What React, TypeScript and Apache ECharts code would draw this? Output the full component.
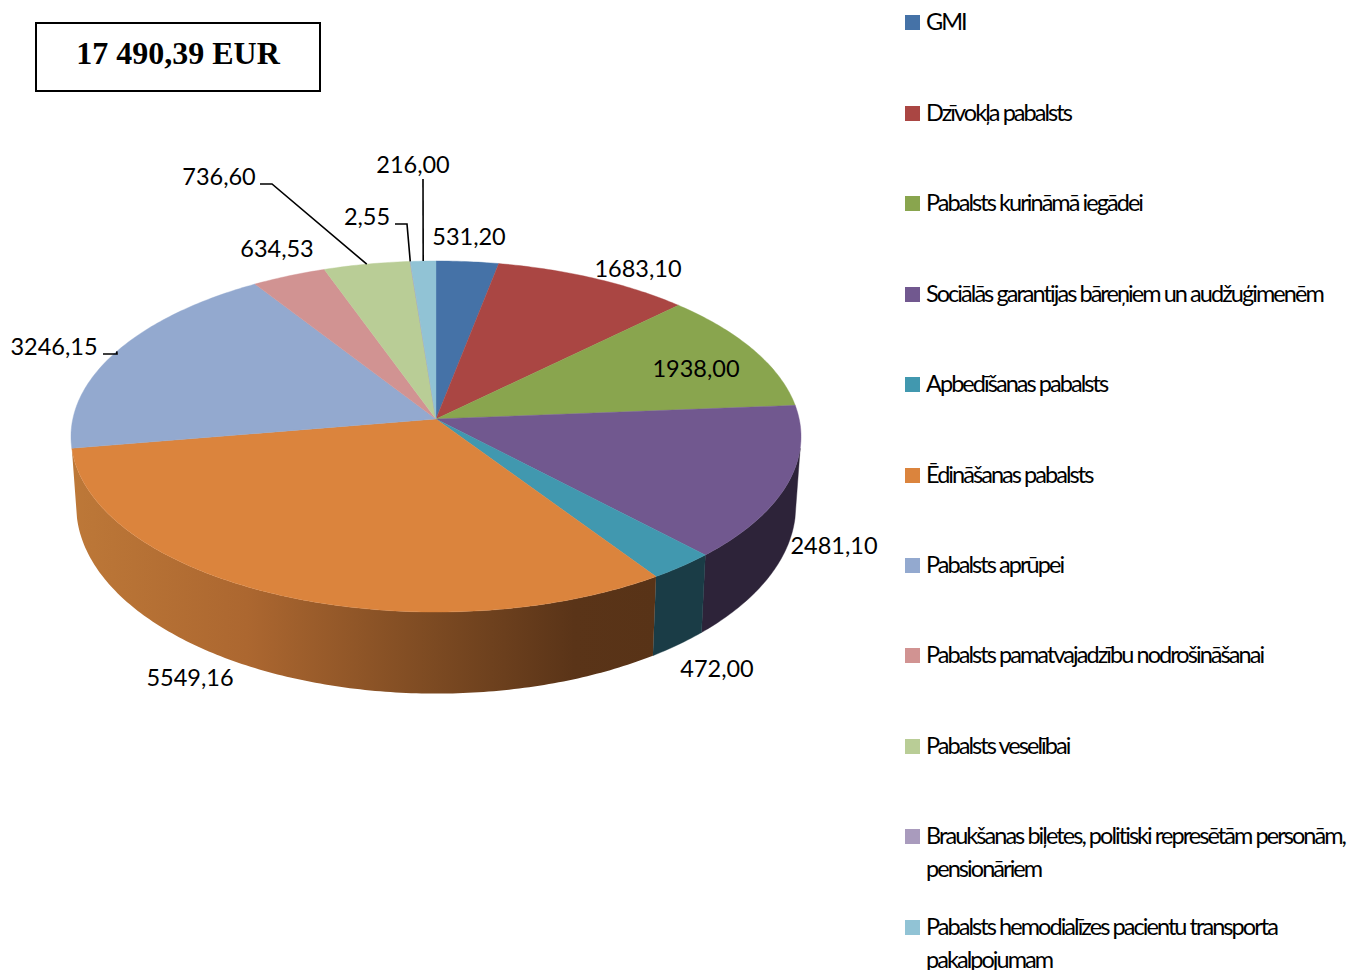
import React, { useEffect, useRef } from "react";
import * as echarts from "echarts";

const names = [
  "GMI",
  "Dzīvokļa pabalsts",
  "Pabalsts kurināmā iegādei",
  "Sociālās garantijas bāreņiem un audžuģimenēm",
  "Apbedīšanas pabalsts",
  "Ēdināšanas pabalsts",
  "Pabalsts aprūpei",
  "Pabalsts pamatvajadzību nodrošināšanai",
  "Pabalsts veselībai",
  "Braukšanas biļetes, politiski represētām personām,\npensionāriem",
  "Pabalsts hemodialīzes pacientu transporta\npakalpojumam",
];
const values = [531.2, 1683.1, 1938.0, 2481.1, 472.0, 5549.16, 3246.15, 634.53, 736.6, 2.55, 216.0];
const colors = ["#4572A7", "#AA4643", "#89A54E", "#71588F", "#4198AF", "#DB843D", "#93A9CF", "#D19392", "#B9CD96", "#A99BBD", "#91C3D5"];
const sideColors = ["#2a4464", "#662a28", "#52632f", "#2d2339", "#1a3c46", "", "#58657c", "#7d5857", "#6f7b5a", "#655d71", "#577580"];
const orangeSideStops = [
  { offset: 0, color: "#bd7838" },
  { offset: 0.3, color: "#ac6730" },
  { offset: 0.62, color: "#7c4a22" },
  { offset: 0.86, color: "#5a3418" },
  { offset: 1, color: "#583317" },
];
const totalLabel = "17 490,39 EUR";

// label centres, and the optional leader's fixed points before it meets the rim
const labelAt: [number, number][] = [
  [469, 236], [638, 268], [696, 368], [834, 545], [717, 668], [190, 677],
  [54, 346], [277, 248], [219, 176], [367, 216], [413, 164],
];
const leaders: ([number, number][] | null)[] = [
  null, null, null, null, null, null,
  [[103, 354], [117, 354]],
  null,
  [[260, 184], [272, 184]],
  [[395, 224], [407, 224]],
  [[423, 179]],
];
const legendCentres = [22.5, 113.5, 203.5, 294.5, 384.5, 475.5, 565.5, 655.5, 746.5, 836.5, 927.5];

const total = values.reduce((a, b) => a + b, 0);
const starts = values.map((_, i) => values.slice(0, i).reduce((a, b) => a + b, 0));
const deg = (v: number) => (v / total) * 360;

const CX = 436;
const K = 0.0997;
const TOP = { y0: 419, h: 173.8, r: 363.2 };
const BASE = { y0: 487, h: 186, r: 358 };
const SIDE_FROM = 99.5;
const SIDE_TO = 260.5;

function rim(a: number, lv: { y0: number; h: number; r: number }): [number, number] {
  const t = (a * Math.PI) / 180;
  const X = Math.sin(t);
  const Y = Math.cos(t);
  const d = 1 + K * Y;
  return [CX + (lv.r * X) / d, lv.y0 - (lv.h * Y) / d];
}
function arc(a0: number, a1: number, lv: typeof TOP) {
  const n = Math.max(2, Math.ceil((a1 - a0) / 0.75));
  const pts: [number, number][] = [];
  for (let i = 0; i <= n; i++) pts.push(rim(a0 + ((a1 - a0) * i) / n, lv));
  return pts;
}
const labelText = (v: number) => v.toFixed(2).replace(".", ",");

function sliceSeries(i: number) {
  return {
    type: "custom",
    name: names[i],
    coordinateSystem: "none",
    itemStyle: { color: colors[i] },
    data: [[values[i], starts[i]]],
    silent: true,
    renderItem: (_p: any, api: any) => {
      const a0 = deg(api.value(1));
      const a1 = a0 + deg(api.value(0));
      const children: any[] = [];
      const s0 = Math.max(a0, SIDE_FROM);
      const s1 = Math.min(a1, SIDE_TO);
      if (s1 - s0 > 0.1) {
        const fill =
          sideColors[i] === ""
            ? new echarts.graphic.LinearGradient(0, 0, 1, 0, orangeSideStops)
            : sideColors[i];
        children.push({
          type: "polygon",
          shape: { points: [...arc(s0, s1, TOP), ...arc(s0, s1, BASE).reverse()] },
          style: { fill, stroke: sideColors[i] === "" ? "none" : fill, lineWidth: 0.4 },
          z2: 1,
        });
      }
      children.push({
        type: "polygon",
        shape: { points: [[CX, TOP.y0], ...arc(a0, a1, TOP)] },
        style: { fill: colors[i], stroke: colors[i], lineWidth: 0.4 },
        z2: 2 + i,
      });
      const lead = leaders[i];
      if (lead) {
        children.push({
          type: "polyline",
          shape: { points: [...lead, rim((a0 + a1) / 2, TOP)] },
          style: { fill: "none", stroke: "#000", lineWidth: 1.6 },
          z2: 50,
        });
      }
      children.push({
        type: "text",
        style: {
          text: labelText(api.value(0)),
          x: labelAt[i][0],
          y: labelAt[i][1],
          align: "center",
          verticalAlign: "middle",
          fill: "#000",
          fontSize: 23.5,
          fontFamily: "Lato, sans-serif",
        },
        z2: 60,
      });
      return { type: "group", children };
    },
  };
}

export default function App() {
  const ref = useRef<HTMLDivElement>(null);
  useEffect(() => {
    const chart = echarts.init(ref.current!, undefined, { renderer: "svg" });
    chart.setOption({
      animation: false,
      backgroundColor: "#fff",
      legend: names.map((n, i) => {
        const lines = n.includes("\n") ? 3 : 1;
        return {
          data: [{ name: n, itemStyle: { color: colors[i] } }],
          left: 905,
          top: legendCentres[i] - (33 * lines) / 2,
          padding: 0,
          orient: "vertical",
          icon: "rect",
          itemWidth: 15,
          itemHeight: 15,
          selectedMode: false,
          formatter: (s: string) => (s.includes("\n") ? "\n" + s : s),
          textStyle: {
            color: "#000",
            fontSize: 23.5,
            lineHeight: 33,
            padding: [0, 0, 0, 1],
            fontFamily: "Lato, 'Open Sans', sans-serif",
          },
        };
      }),
      graphic: [
        {
          type: "rect",
          shape: { x: 36, y: 23, width: 284, height: 68 },
          style: { fill: "#fff", stroke: "#000", lineWidth: 2 },
        },
        {
          type: "text",
          style: {
            text: totalLabel,
            x: 178,
            y: 53,
            align: "center",
            verticalAlign: "middle",
            fill: "#000",
            fontSize: 32,
            fontWeight: "bold",
            fontFamily: "'Liberation Serif', serif",
          },
        },
      ],
      series: names.map((_, i) => sliceSeries(i)),
    });
    return () => chart.dispose();
  }, []);
  return (
    <>
      <style>{`body{margin:0} text[style*="Open Sans"]{letter-spacing:-1.95px;translate:0 -1.5px}`}</style>
      <div ref={ref} style={{ position: "absolute", left: 0, top: 0, width: 1362, height: 970 }} />
    </>
  );
}
